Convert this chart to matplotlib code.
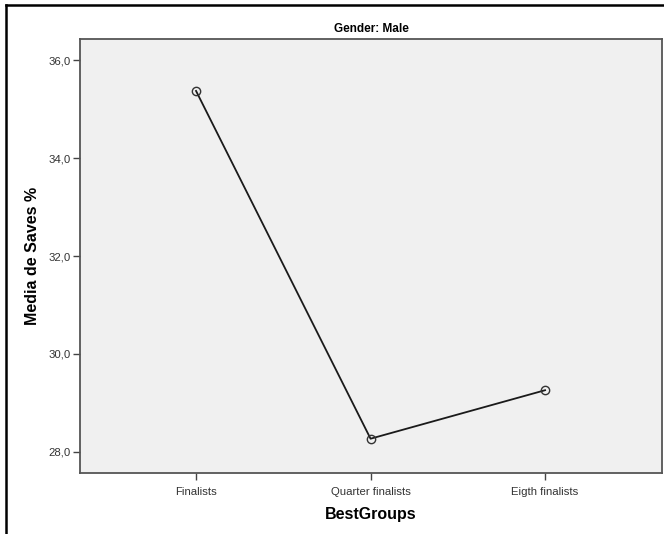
import matplotlib

matplotlib.use("Agg")
import matplotlib.pyplot as plt  # noqa: E402
from matplotlib.lines import Line2D  # noqa: E402
from matplotlib.ticker import FuncFormatter  # noqa: E402

plt.rcParams["font.family"] = ["Liberation Sans", "DejaVu Sans"]

# dados
groups = ["Finalists", "Quarter finalists", "Eigth finalists"]
media_saves = [35.37, 28.27, 29.26]
y_ticks = [28.0, 30.0, 32.0, 34.0, 36.0]

W, H = 664, 534
fig = plt.figure(figsize=(W / 100, H / 100), dpi=100)
ax = fig.add_axes([80 / W, 1 - 473 / H, (662 - 80) / W, (473 - 39) / H])
ax.set_facecolor("#f0f0f0")

x = list(range(len(groups)))
ax.plot(x, media_saves, color="#1a1a1a", linewidth=1.3, marker="o",
        markersize=6, markerfacecolor="none", markeredgecolor="#333333",
        markeredgewidth=1.0)

ax.set_xlim(-0.665, 2.67)
ax.set_ylim(27.57, 36.43)
ax.set_xticks(x)
ax.set_xticklabels(groups)
ax.set_yticks(y_ticks)
ax.yaxis.set_major_formatter(FuncFormatter(lambda v, p: f"{v:.1f}".replace(".", ",")))
ax.tick_params(direction="out", length=5, width=1, colors="#444444",
               labelcolor="#333333", labelsize=8.2)
ax.tick_params(axis="x", pad=5)
ax.tick_params(axis="y", pad=2)

for side in ["left", "bottom", "right", "top"]:
    ax.spines[side].set_color("#555555")
    ax.spines[side].set_linewidth(1.3)

ax.set_xlabel("BestGroups", fontsize=11.5, fontweight="bold", labelpad=7)
ax.set_ylabel("Media de Saves %", fontsize=11.5, fontweight="bold", labelpad=6)
ax.set_title("Gender: Male", fontsize=8.5, fontweight="bold",
             family=["Liberation Sans Narrow", "Liberation Sans", "DejaVu Sans"], pad=5)

# moldura externa (so topo e esquerda visiveis)
fig.add_artist(Line2D([6 / W, 1], [1 - 5 / H, 1 - 5 / H], color="black", linewidth=1.8,
                      transform=fig.transFigure))
fig.add_artist(Line2D([6 / W, 6 / W], [0, 1 - 5 / H], color="black", linewidth=1.8,
                      transform=fig.transFigure))

fig.savefig("out.png", dpi=100)
plt.close(fig)
